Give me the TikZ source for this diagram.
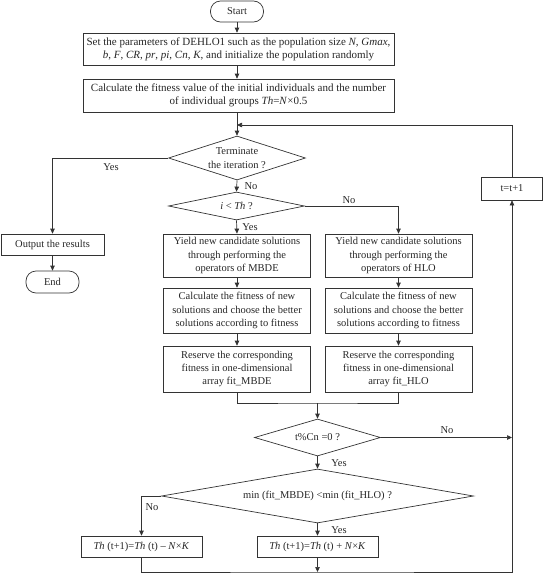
\documentclass[tikz,border=0pt]{standalone}
\usepackage{fontspec}
\setmainfont{Liberation Serif}
\usetikzlibrary{shapes.geometric,arrows.meta}
\begin{document}
\begin{tikzpicture}[x=1pt,y=-1pt,
  every node/.style={font=\fontsize{10.5}{13.3}\selectfont, text=black!85},
  box/.style={draw=black!80, line width=0.7pt, rectangle, inner sep=0pt, align=center},
  widebox/.style={box, font=\fontsize{11}{13.3}\selectfont},
  term/.style={draw=black!80, line width=0.7pt, rectangle, rounded corners=10pt, inner sep=0pt},
  dia/.style={draw=black!80, line width=0.7pt, diamond, inner sep=0pt},
  lbl/.style={inner sep=0pt},
  conn/.style={draw=black!80, line width=0.7pt},
  arr/.style={conn, -{Triangle[length=5pt,width=4.5pt]}}]
\useasboundingbox (0,0) rectangle (544,573);
% nodes
\node[term, minimum width=53pt, minimum height=21pt] (start) at (237,11.5) {Start};
\node[widebox, minimum width=311pt, minimum height=32pt] (set) at (238.5,49)
 {Set the parameters of DEHLO1 such as the population size \textit{N}, \textit{Gmax},\\
  \textit{b}, \textit{F}, \textit{CR}, \textit{pr}, \textit{pi}, \textit{Cn}, \textit{K}, and initialize the population randomly};
\node[widebox, minimum width=311pt, minimum height=33pt] (calc) at (238.5,95.5)
 {Calculate the fitness value of the initial individuals and the number\\
  of individual groups \textit{Th}=\textit{N}×0.5};
\node[dia, minimum width=137pt, minimum height=44pt,
  label={[align=center, inner sep=0pt]center:Terminate\\the iteration ?}] (trm) at (237,158) {};
\node[dia, minimum width=136pt, minimum height=28pt,
  label={[inner sep=0pt]center:\textit{i} < \textit{Th\/} ?}] (ith) at (236.5,206) {};
\node[box, minimum width=103pt, minimum height=21pt] (out) at (52.5,244.5) {Output the results};
\node[term, minimum width=53pt, minimum height=22pt] (endn) at (52.5,282) {End};
\node[box, minimum width=147pt, minimum height=43pt] (m1) at (237,255.5)
 {Yield new candidate solutions\\through performing the\\operators of MBDE};
\node[box, minimum width=147pt, minimum height=45pt] (m2) at (237,310.5)
 {Calculate the fitness of new\\solutions and choose the better\\solutions according to fitness};
\node[box, minimum width=147pt, minimum height=46pt] (m3) at (237,369)
 {Reserve the corresponding\\fitness in one-dimensional\\array fit\_MBDE};
\node[box, minimum width=147pt, minimum height=43pt] (h1) at (398.5,255.5)
 {Yield new candidate solutions\\through performing the\\operators of HLO};
\node[box, minimum width=147pt, minimum height=45pt] (h2) at (398.5,310.5)
 {Calculate the fitness of new\\solutions and choose the better\\solutions according to fitness};
\node[box, minimum width=147pt, minimum height=46pt] (h3) at (398.5,369)
 {Reserve the corresponding\\fitness in one-dimensional\\array fit\_HLO};
\node[dia, minimum width=126pt, minimum height=37pt,
  label={[inner sep=0pt]center:t\%Cn =0 ?}] (tcn) at (317.5,437.5) {};
\node[dia, minimum width=312pt, minimum height=54pt,
  label={[inner sep=0pt]center:min (fit\_MBDE) <min (fit\_HLO) ?}] (mind) at (317.5,496) {};
\node[box, minimum width=121pt, minimum height=21pt] (thl) at (141.5,546.5)
 {\textit{Th} (t+1)=\textit{Th} (t) – \textit{N}×\textit{K}};
\node[box, minimum width=121pt, minimum height=21pt] (thr) at (317.5,546.5)
 {\textit{Th} (t+1)=\textit{Th} (t) + \textit{N}×\textit{K}};
\node[box, minimum width=61pt, minimum height=23pt] (tt) at (512,188.5) {t=t+1};
% coordinates
\coordinate (loop) at (237,125);
\coordinate (mg) at (317.5,403);
\coordinate (bot) at (317.5,572);
% connectors
\draw[arr] (start.south) -- (start.south |- set.north);
\draw[arr] (start.south |- set.south) -- (start.south |- calc.north);
\draw[conn] (start.south |- calc.south) -- (loop);
\draw[arr] (loop) -- (trm.north);
\draw[arr] (tt.north) |- (loop);
\draw[arr] (trm.west) -| (out.north);
\draw[arr] (out.south) -- (endn.north);
\draw[arr] (trm.south) -- (ith.north);
\draw[arr] (ith.south) -- (m1.north);
\draw[arr] (ith.east) -| (h1.north);
\draw[arr] (m1.south) -- (m2.north);
\draw[arr] (m2.south) -- (m3.north);
\draw[arr] (h1.south) -- (h2.north);
\draw[arr] (h2.south) -- (h3.north);
\draw[conn] (m3.south) |- (mg) -| (h3.south);
\draw[arr] (mg) -- (tcn.north);
\draw[arr] (tcn.east) -- (tcn.east -| tt.south);
\draw[arr] (tcn.south) -- (mind.north);
\draw[arr] (mind.west) -| (thl.north);
\draw[arr] (mind.south) -- (thr.north);
\draw[arr] (thr.south) -- (bot);
\draw[arr] (thl.south) |- (bot) -| (tt.south);
% labels
\node[lbl] (l1) at (111,167) {Yes};
\node[lbl] (l2) at (251,186.5) {No};
\node[lbl] (l3) at (349,200) {No};
\node[lbl] (l4) at (250,227.5) {Yes};
\node[lbl] (l5) at (447,430.5) {No};
\node[lbl] (l6) at (339,463) {Yes};
\node[lbl] (l7) at (152,507) {No};
\node[lbl] (l8) at (339,530.5) {Yes};
\end{tikzpicture}
\end{document}
